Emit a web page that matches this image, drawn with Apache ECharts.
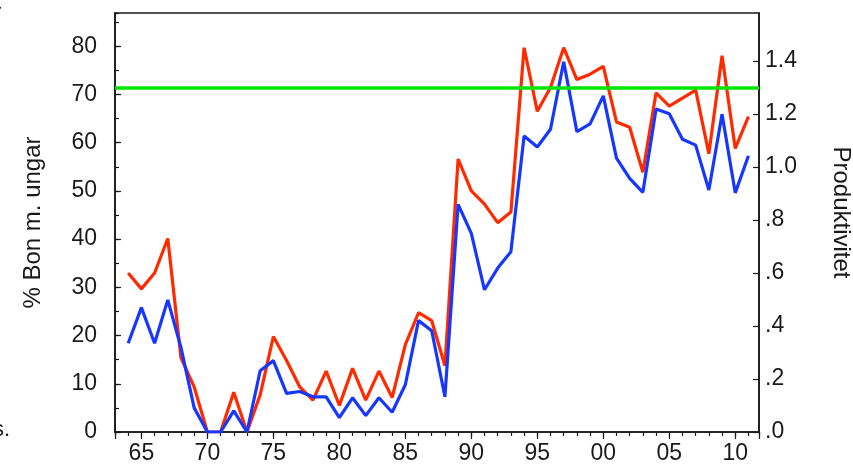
<!DOCTYPE html>
<html>
<head>
<meta charset="utf-8">
<script src="https://cdn.jsdelivr.net/npm/echarts@6/dist/echarts.min.js"></script>
<style>
html,body{margin:0;padding:0;background:#fff;}
#chart{width:853px;height:468px;}
</style>
</head>
<body>
<div id="chart"></div>
<script>
const years = [1964,1965,1966,1967,1968,1969,1970,1971,1972,1973,1974,1975,1976,1977,1978,1979,1980,1981,1982,1983,1984,1985,1986,1987,1988,1989,1990,1991,1992,1993,1994,1995,1996,1997,1998,1999,2000,2001,2002,2003,2004,2005,2006,2007,2008,2009,2010,2011];
// Produktivitet (right axis)
const produktivitet = [0.60,0.54,0.60,0.73,0.28,0.17,0.00,0.00,0.15,0.00,0.14,0.36,0.27,0.17,0.12,0.23,0.10,0.24,0.12,0.23,0.13,0.33,0.45,0.42,0.25,1.03,0.91,0.86,0.79,0.83,1.45,1.21,1.30,1.45,1.33,1.35,1.38,1.17,1.15,0.98,1.28,1.23,1.26,1.29,1.05,1.42,1.07,1.19];
// % Bon m. ungar (left axis)
const bonUngar = [18.4,25.8,18.4,27.4,17.5,5.0,0,0,4.4,0,12.7,14.8,8.0,8.4,7.3,7.3,3.0,7.1,3.4,7.1,4.1,9.8,23.1,21.0,7.3,47.2,41.2,29.5,34.0,37.4,61.4,59.1,62.8,76.8,62.3,63.9,69.7,56.8,52.6,49.7,67.0,66.0,60.7,59.5,50.2,65.9,49.6,57.3];
const targetLevel = 1.3;
const xMin = 1963, xMax = 2011.8;
const leftMax = 86.9, rightMax = 1.581;

const FONT = '"Liberation Sans", Arial, Helvetica, sans-serif';
const TXT = '#1a1a1a';

const chart = echarts.init(document.getElementById('chart'), null, {renderer:'canvas'});
const pairs = (vals) => years.map((y,i) => [y, vals[i]]);

const option = {
  animation: false,
  backgroundColor: '#fff',
  grid: {left:115, top:13, right:94, bottom:36, show:true, borderColor:'#1a1a1a', borderWidth:1.6, containLabel:false, outerBoundsMode:'none'},
  xAxis: [
    {
      type:'value', min:xMin, max:xMax, splitNumber:10,
      axisLine:{show:true, onZero:false, lineStyle:{color:'#1a1a1a', width:1.6}},
      axisTick:{show:true, inside:false, length:7, lineStyle:{color:'#1a1a1a', width:1.2}},
      axisLabel:{margin:10, fontFamily:FONT, fontSize:23, color:TXT,
        formatter:(v)=> (Math.abs(v - Math.round(v))<1e-6 && Math.round(v)%5===0) ? String(Math.round(v)%100).padStart(2,'0') : ''},
      splitLine:{show:false}
    },
    {
      type:'value', min:xMin, max:xMax, interval:1, position:'bottom',
      axisLine:{show:false, onZero:false},
      axisTick:{show:true, inside:false, length:4, lineStyle:{color:'#1a1a1a', width:1.2}},
      axisLabel:{show:false},
      splitLine:{show:false}
    }
  ],
  yAxis: [
    {
      type:'value', min:0, max:leftMax, interval:10, position:'left',
      name:'% Bon m. ungar', nameLocation:'middle', nameGap:70,
      nameTextStyle:{fontFamily:FONT, fontSize:24, color:TXT},
      axisLine:{show:true, onZero:false, lineStyle:{color:'#1a1a1a', width:1.6}},
      axisTick:{show:true, inside:true, length:6, lineStyle:{color:'#1a1a1a', width:1.2}},
      axisLabel:{margin:18, fontFamily:FONT, fontSize:23, color:TXT, showMaxLabel:false,
        formatter:(v)=> (v%10===0) ? String(v) : ''},
      splitLine:{show:false}
    },
    {
      type:'value', min:0, max:rightMax, interval:0.2, position:'right',
      name:'Produktivitet', nameLocation:'middle', nameGap:70, nameRotate:-90,
      nameTextStyle:{fontFamily:FONT, fontSize:24, color:TXT, padding:[0,20,0,0]},
      axisLine:{show:true, onZero:false, lineStyle:{color:'#1a1a1a', width:1.6}},
      axisTick:{show:true, inside:true, length:6, lineStyle:{color:'#1a1a1a', width:1.2}},
      axisLabel:{margin:6, fontFamily:FONT, fontSize:23, color:TXT, showMaxLabel:false,
        formatter:(v)=> { const r = Math.round(v*10)/10; if (Math.abs(v-r)>1e-6) return ''; return r<1 ? '.'+Math.round(r*10) : r.toFixed(1); }},
      splitLine:{show:false}
    },
    {
      type:'value', min:0, max:leftMax, interval:5, position:'left',
      axisLine:{show:false, onZero:false},
      axisTick:{show:true, inside:true, length:4, lineStyle:{color:'#1a1a1a', width:1.2}},
      axisLabel:{show:false},
      splitLine:{show:false}
    }
  ],
  series: [
    {
      type:'line', name:'Produktivitet', xAxisIndex:0, yAxisIndex:1,
      data: pairs(produktivitet), showSymbol:false, symbol:'none',
      lineStyle:{color:'#ff2a00', width:3.2}, z:2
    },
    {
      type:'line', name:'% Bon m. ungar', xAxisIndex:0, yAxisIndex:0,
      data: pairs(bonUngar), showSymbol:false, symbol:'none',
      lineStyle:{color:'#1637ff', width:3.2}, z:3
    },
    {
      type:'line', xAxisIndex:0, yAxisIndex:1, data:[], z:4,
      markLine:{silent:true, symbol:['none','none'], label:{show:false},
        lineStyle:{color:'#00e600', width:3.6, type:'solid'},
        data:[{yAxis:targetLevel}]}
    }
  ],
  graphic: [
    {type:'text', left:-6, top:2, style:{text:'r', font:'22px '+FONT, fill:TXT}},
    {type:'text', left:-7, top:419, style:{text:'s.', font:'22px '+FONT, fill:TXT}}
  ]
};
chart.setOption(option);
</script>
</body>
</html>
